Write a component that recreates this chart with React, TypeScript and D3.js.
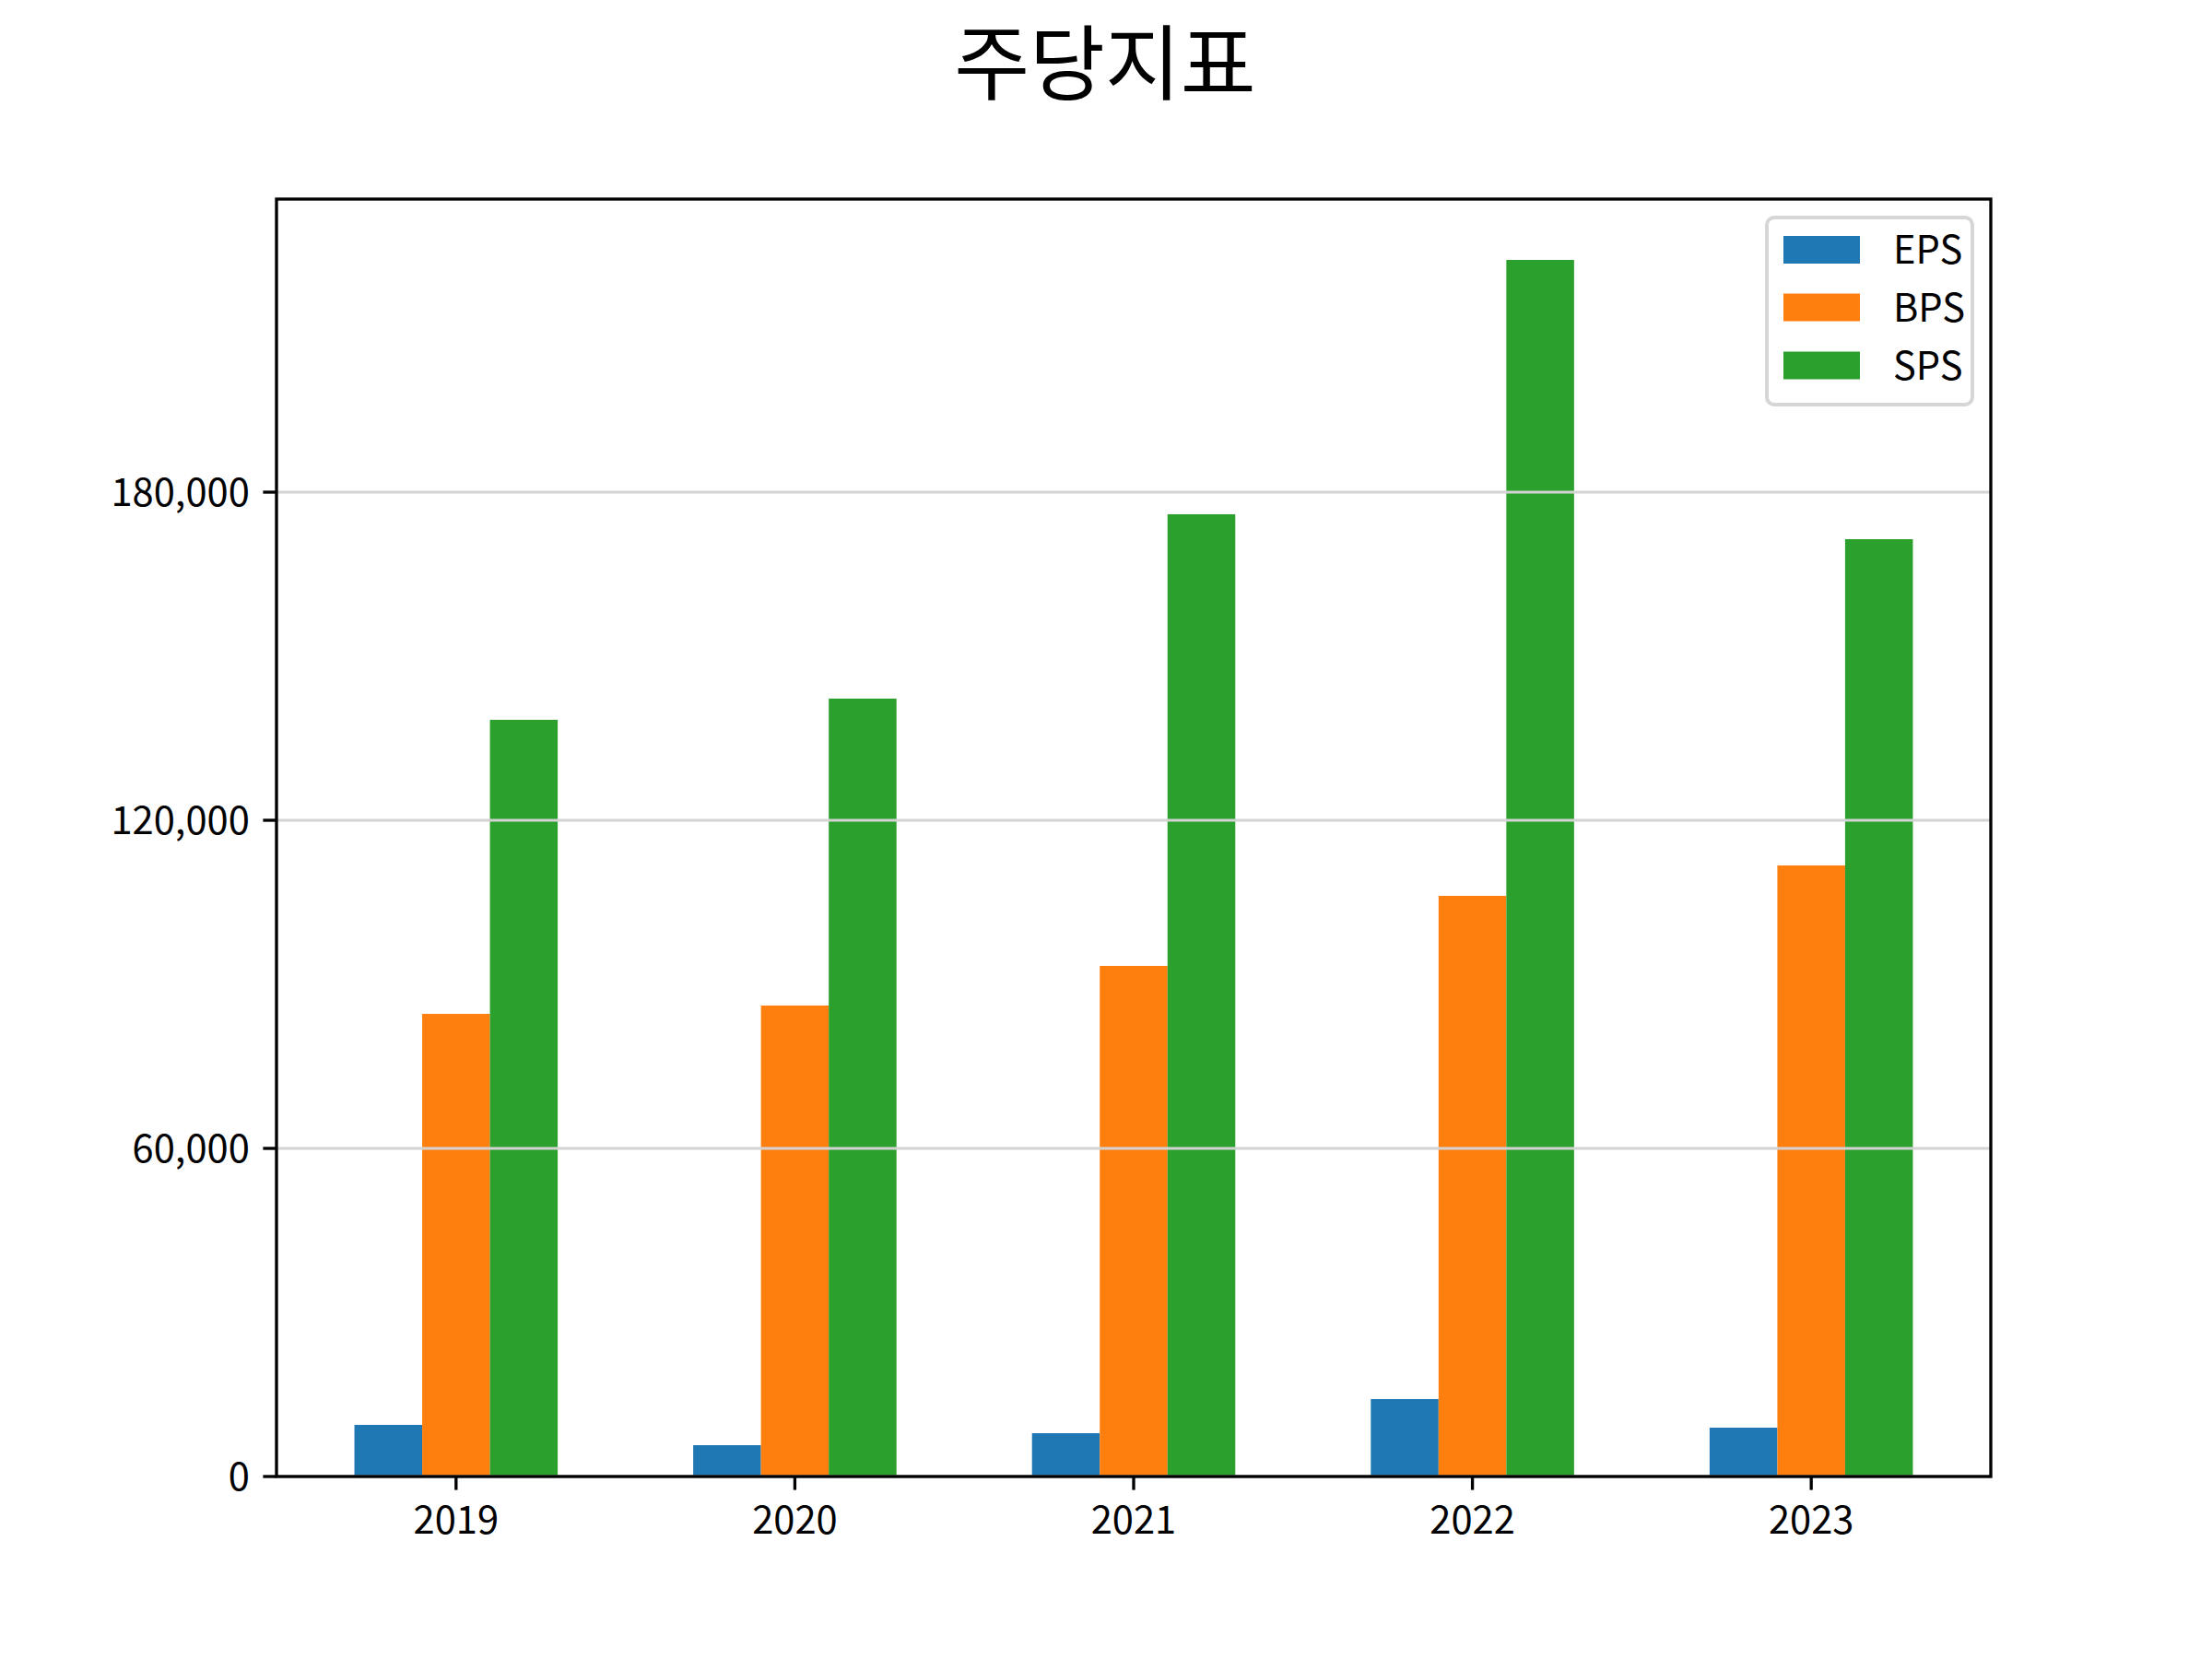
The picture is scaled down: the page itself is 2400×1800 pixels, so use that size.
import React from "react";
import * as d3 from "d3";

const years = ["2019", "2020", "2021", "2022", "2023"];
const seriesNames = ["EPS", "BPS", "SPS"];
const eps = [9440, 5730, 7920, 14160, 8930];
const bps = [84600, 86120, 93370, 106180, 111740];
const sps = [138370, 142250, 175960, 222470, 171400];
const yTicks = [0, 60000, 120000, 180000];
const colors = ["#1f77b4", "#ff7f0e", "#2ca02c"];

const W = 2400;
const H = 1800;
const margin = { left: 300, right: 2160, top: 216, bottom: 1602 };
const font = '"Noto Sans CJK KR", "Noto Sans", sans-serif';
const fs = 41.67;
const tickLen = 14.6;
const lw = 3.33;

const App: React.FC = () => {
  const series = [eps, bps, sps];
  const barW = 0.2;
  const allVals = series.flat();
  const yMax = (d3.max(allVals) as number) * 1.05;

  // matplotlib-like 5% margins on the x data range
  const x0 = -0.3;
  const x1 = years.length - 1 + 0.3;
  const pad = (x1 - x0) * 0.05;
  const xScale = d3
    .scaleLinear()
    .domain([x0 - pad, x1 + pad])
    .range([margin.left, margin.right]);
  const yScale = d3
    .scaleLinear()
    .domain([0, yMax])
    .range([margin.bottom, margin.top]);
  const fmt = d3.format(",");

  // Legend
  const legend = { x: 1917, y: 236, w: 223, h: 203 };
  const rowCenters = [271, 333.5, 396.5];

  return (
    <svg
      width={W}
      height={H}
      style={{ position: "absolute", left: 0, top: 0, background: "#fff" }}
      fontFamily={font}
    >
      <rect width={W} height={H} fill="#fff" />
      <text x={1199} y={101} textAnchor="middle" fontSize={89} fill="#000">
        주당지표
      </text>

      {/* bars */}
      {series.map((vals, s) =>
        vals.map((v, i) => {
          const left = xScale(i + (s - 1) * barW - barW / 2);
          const right = xScale(i + (s - 1) * barW + barW / 2);
          return (
            <rect
              key={`${s}-${i}`}
              x={left}
              y={yScale(v)}
              width={right - left}
              height={yScale(0) - yScale(v)}
              fill={colors[s]}
            />
          );
        })
      )}

      {/* grid over bars */}
      {yTicks.map(t => (
        <line
          key={`g${t}`}
          x1={margin.left}
          x2={margin.right}
          y1={yScale(t)}
          y2={yScale(t)}
          stroke="#d3d3d3"
          strokeWidth={3}
        />
      ))}

      {/* y axis ticks */}
      {yTicks.map(t => (
        <g key={`y${t}`}>
          <line
            x1={margin.left - tickLen}
            x2={margin.left}
            y1={yScale(t)}
            y2={yScale(t)}
            stroke="#000"
            strokeWidth={lw}
          />
          <text
            x={margin.left - tickLen - 14.6}
            y={yScale(t) + 15}
            textAnchor="end"
            fontSize={fs}
            fill="#000"
          >
            {fmt(t)}
          </text>
        </g>
      ))}

      {/* x axis ticks */}
      {years.map((yr, i) => (
        <g key={yr}>
          <line
            x1={xScale(i)}
            x2={xScale(i)}
            y1={margin.bottom}
            y2={margin.bottom + tickLen}
            stroke="#000"
            strokeWidth={lw}
          />
          <text
            x={xScale(i)}
            y={1664}
            textAnchor="middle"
            fontSize={fs}
            fill="#000"
          >
            {yr}
          </text>
        </g>
      ))}

      {/* frame */}
      <rect
        x={margin.left}
        y={margin.top}
        width={margin.right - margin.left}
        height={margin.bottom - margin.top}
        fill="none"
        stroke="#000"
        strokeWidth={lw}
      />

      {/* legend */}
      <rect
        x={legend.x}
        y={legend.y}
        width={legend.w}
        height={legend.h}
        rx={8}
        ry={8}
        fill="rgba(255,255,255,0.8)"
        stroke="#d6d6d6"
        strokeWidth={4}
      />
      {seriesNames.map((name, i) => (
        <g key={name}>
          <rect
            x={1935}
            y={rowCenters[i] - 15}
            width={83}
            height={30}
            fill={colors[i]}
          />
          <text x={2054} y={rowCenters[i] + 15} fontSize={fs} fill="#000">
            {name}
          </text>
        </g>
      ))}
    </svg>
  );
};

export default App;
